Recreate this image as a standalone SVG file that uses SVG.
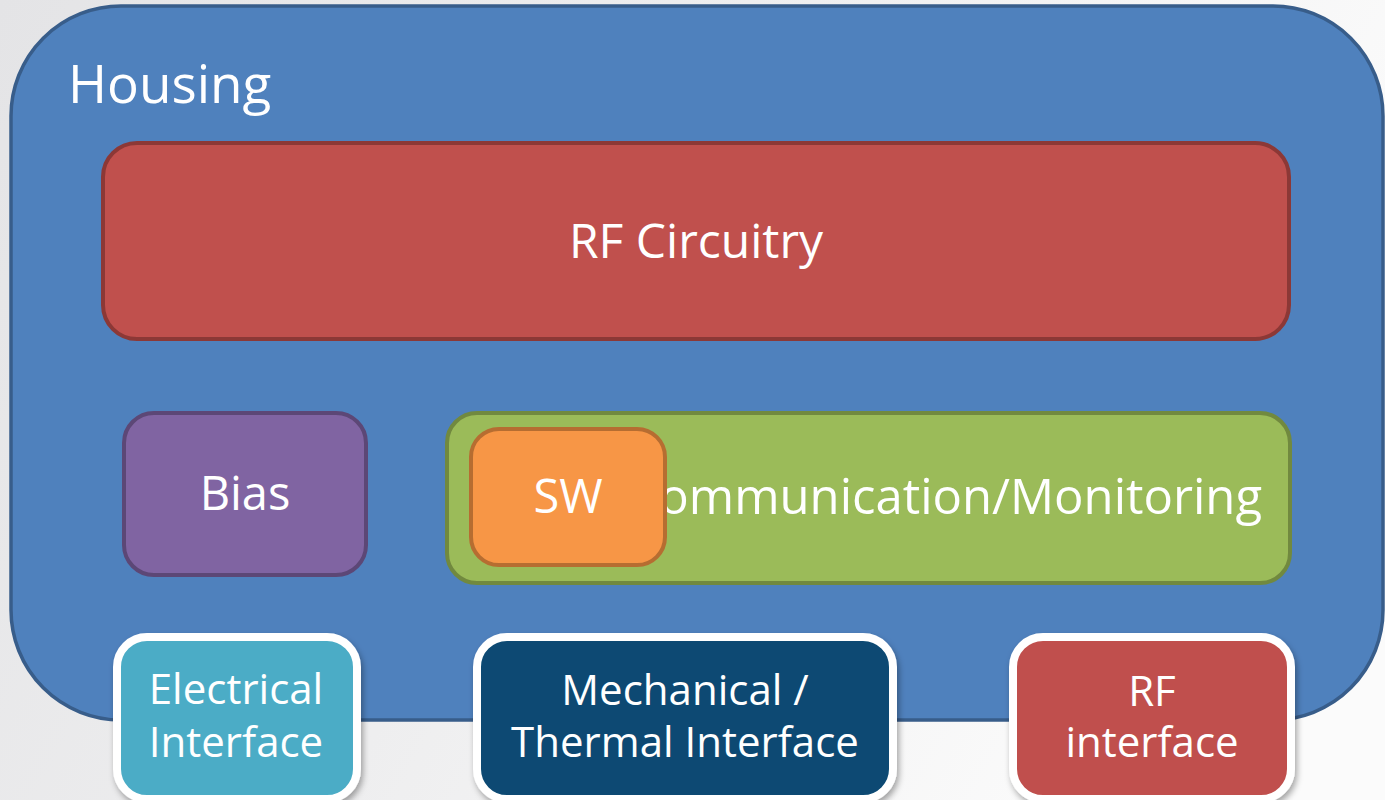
<svg xmlns="http://www.w3.org/2000/svg" width="1385" height="800" viewBox="0 0 1385 800">
  <defs>
    <linearGradient id="bg" x1="0" y1="0" x2="1" y2="0.3">
      <stop offset="0" stop-color="#e4e4e6"/>
      <stop offset="0.5" stop-color="#eeeeef"/>
      <stop offset="1" stop-color="#fbfbfb"/>
    </linearGradient>
    <filter id="shadow" x="-10%" y="-10%" width="125%" height="130%">
      <feDropShadow dx="2" dy="4" stdDeviation="3" flood-color="#000" flood-opacity="0.35"/>
    </filter>
    <style>
      .lbl { font-family: "Open Sans", "Noto Sans", "Liberation Sans", sans-serif; fill: #ffffff; text-anchor: middle; }
      .big { font-size: 47px; }
      .small { font-size: 42px; }
      .housing { fill: #4f81bd; stroke: #385d8a; stroke-width: 3.5; }
      .iface { stroke: #ffffff; stroke-width: 8; filter: url(#shadow); }
    </style>
  </defs>

  <!-- backdrop -->
  <rect x="0" y="0" width="1385" height="800" fill="url(#bg)"/>

  <!-- enclosure -->
  <g id="housing">
    <rect class="housing" x="11" y="6" width="1372" height="714" rx="110" ry="110"/>
    <text class="lbl" x="68" y="103" font-size="53" style="text-anchor:start">Housing</text>
  </g>

  <g id="rf-circuitry">
    <rect x="103" y="143" width="1186" height="196" rx="34" fill="#c0504d" stroke="#8c3836" stroke-width="4"/>
    <text class="lbl" x="696" y="258" font-size="48">RF Circuitry</text>
  </g>

  <g id="bias">
    <rect x="124" y="413" width="242" height="162" rx="30" fill="#8064a2" stroke="#5c4776" stroke-width="4"/>
    <text class="lbl big" x="245" y="510">Bias</text>
  </g>

  <g id="comm-monitoring">
    <rect x="447" y="413" width="843" height="170" rx="30" fill="#9bbb59" stroke="#71893f" stroke-width="4"/>
    <text class="lbl" x="1262" y="514" font-size="49" style="text-anchor:end">Communication/Monitoring</text>
  </g>

  <g id="sw">
    <rect x="471" y="429" width="194" height="136" rx="28" fill="#f79646" stroke="#b66d31" stroke-width="4"/>
    <text class="lbl big" x="568" y="513">SW</text>
  </g>

  <g id="electrical-interface">
    <rect class="iface" x="117" y="637" width="240" height="162" rx="30" fill="#4bacc6"/>
    <text class="lbl small" x="236" y="704">Electrical</text>
    <text class="lbl small" x="236" y="757">Interface</text>
  </g>

  <g id="mech-thermal-interface">
    <rect class="iface" x="477" y="637" width="416" height="162" rx="30" fill="#0a4a73"/>
    <text class="lbl small" x="685" y="705">Mechanical /</text>
    <text class="lbl small" x="685" y="757">Thermal Interface</text>
  </g>

  <g id="rf-interface">
    <rect class="iface" x="1013" y="637" width="278" height="162" rx="30" fill="#c0504d"/>
    <text class="lbl small" x="1152" y="706">RF</text>
    <text class="lbl small" x="1152" y="757">interface</text>
  </g>

  <g id="connectors"/>
</svg>
